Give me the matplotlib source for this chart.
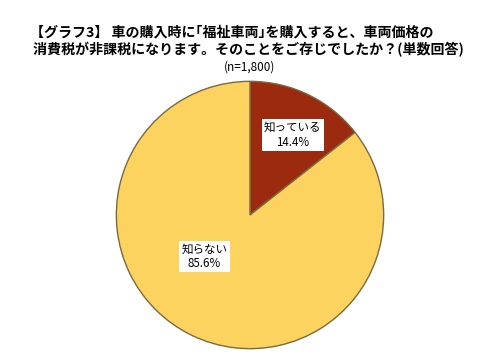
import matplotlib
matplotlib.use("Agg")
import matplotlib.pyplot as plt

plt.rcParams['font.family'] = ['Noto Sans CJK JP', 'DejaVu Sans']

title_lines = ["【グラフ3】 車の購入時に｢福祉車両｣を購入すると、車両価格の",
               " 消費税が非課税になります。そのことをご存じでしたか？(単数回答)"]
labels = ["知っている", "知らない"]
shares = [14.4, 85.6]
colors = ["#9C2A0E", "#FDD35F"]

fig = plt.figure(figsize=(4.8, 3.6), dpi=100)
for i, line in enumerate(title_lines):
    fig.text(30 / 480, 1 - (36 + 18 * i) / 360, line, ha="left", va="baseline",
             fontsize=10.1, fontweight="bold")
fig.text(250 / 480, 1 - 71 / 360, "(n=1,800)", ha="center", va="baseline", fontsize=8.5)

# pie area: center ~ (250, 215) px, radius ~135 px
ax = fig.add_axes([(250 - 135) / 480, (360 - 215 - 135) / 360, 270 / 480, 270 / 360])
wedges, _ = ax.pie(shares, colors=colors, startangle=90, counterclock=False,
                   wedgeprops=dict(edgecolor="#7A6A40", linewidth=1))
ax.set_xlim(-1.01, 1.01)
ax.set_ylim(-1.01, 1.01)
ax.set_aspect("equal")

label_pos = [(0.32, 0.60), (-0.34, -0.31)]
for lab, val, (x, y) in zip(labels, shares, label_pos):
    ax.text(x, y, f"{lab}\n{val}%", ha="center", va="center", fontsize=8.3,
            linespacing=1.15,
            bbox=dict(facecolor="white", edgecolor="none", pad=1.5))

fig.savefig("out.png", dpi=100)
